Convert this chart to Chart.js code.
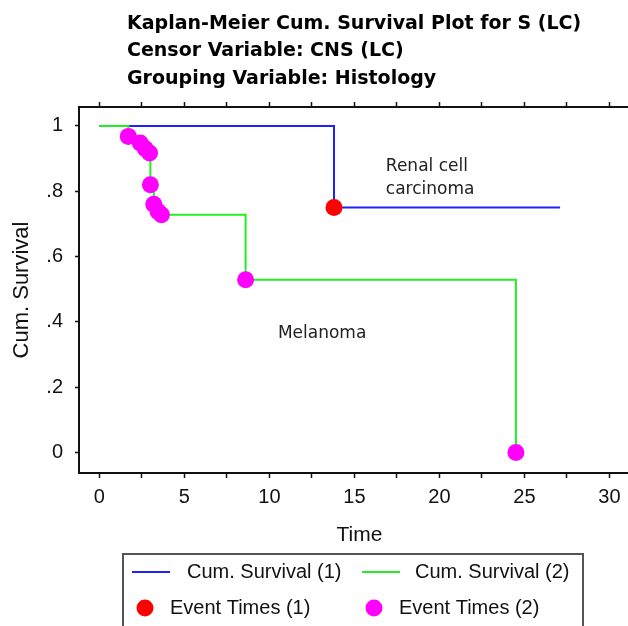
<!DOCTYPE html>
<html>
<head>
<meta charset="utf-8">
<script src="https://cdn.jsdelivr.net/npm/chart.js@4.4.1/dist/chart.umd.min.js"></script>
<style>
    html, body { margin: 0; padding: 0; background: #fff; }
    /* the plot frame is open on the right, so the canvas runs a bit past the window */
    #wrap { width: 628px; height: 626px; overflow: hidden; }
</style>
</head>
<body>
<div id="wrap"><canvas id="km" width="640" height="626"></canvas></div>
<script>
// Chart data
const titleLines = [
    'Kaplan-Meier Cum. Survival Plot for S (LC)',
    'Censor Variable: CNS (LC)',
    'Grouping Variable: Histology'
];

// Group 1: renal cell carcinoma
const renalTimes = [0, 13.8, 27.1];
const renalSurvival = [1, 0.75, 0.75];
const renalEventTimes = [13.8];
const renalEventSurvival = [0.75];

// Group 2: melanoma
const melanomaTimes = [0, 1.7, 2.4, 2.7, 2.95, 3.0, 3.2, 3.45, 3.65, 8.6, 24.5];
const melanomaSurvival = [1, 0.968, 0.948, 0.93, 0.917, 0.82, 0.76, 0.738, 0.728, 0.529, 0];
const melanomaEventTimes = [1.7, 2.4, 2.7, 2.95, 3.0, 3.2, 3.45, 3.65, 8.6, 24.5];
const melanomaEventSurvival = [0.968, 0.948, 0.93, 0.917, 0.82, 0.76, 0.738, 0.728, 0.529, 0];

// Axis ticks
const xTickValues = [0, 2.5, 5, 7.5, 10, 12.5, 15, 17.5, 20, 22.5, 25, 27.5, 30];
const xTickLabels = ['0', '', '5', '', '10', '', '15', '', '20', '', '25', '', '30'];
const yTickValues = [0, 0.2, 0.4, 0.6, 0.8, 1];
const yTickLabels = ['0', '.2', '.4', '.6', '.8', '1'];

const seriesLabels = ['Cum. Survival (1)', 'Cum. Survival (2)', 'Event Times (1)', 'Event Times (2)'];
const groupNotes = [['Renal cell', 'carcinoma'], ['Melanoma']];

const toPoints = (xs, ys) => xs.map((x, i) => ({ x: x, y: ys[i] }));

const INK = '#111';
const FONT = 'Liberation Sans, Arial, sans-serif';

// Titles, group names and the boxed legend are drawn on the canvas
const decorPlugin = {
    id: 'decor',
    afterDraw(chart) {
        const ctx = chart.ctx;
        const xs = chart.scales.x;
        const ys = chart.scales.y;
        ctx.save();

        // title block
        ctx.fillStyle = '#000';
        ctx.font = 'bold 19px "DejaVu Sans"';
        ctx.textAlign = 'left';
        ctx.textBaseline = 'middle';
        titleLines.forEach((line, i) => ctx.fillText(line, 127, 24 + i * 27.5));

        // group names inside the plot
        ctx.font = '17px "DejaVu Sans"';
        ctx.fillStyle = '#222';
        groupNotes[0].forEach((line, i) =>
            ctx.fillText(line, xs.getPixelForValue(16.85), ys.getPixelForValue(0.874) + i * 23));
        ctx.fillText(groupNotes[1][0], xs.getPixelForValue(10.5), ys.getPixelForValue(0.365));

        // legend box
        const left = 123, top = 554;
        ctx.strokeStyle = '#555';
        ctx.lineWidth = 2;
        ctx.strokeRect(left, top, 460, 100);

        const ds = chart.data.datasets;
        ctx.font = '20px ' + FONT;
        ctx.fillStyle = INK;
        const rowY = [top + 18, top + 54];
        // line samples
        [[9, 64], [239, 292]].forEach((pos, i) => {
            ctx.strokeStyle = ds[i].borderColor;
            ctx.lineWidth = 2;
            ctx.beginPath();
            ctx.moveTo(left + pos[0], rowY[0]);
            ctx.lineTo(left + pos[0] + 38, rowY[0]);
            ctx.stroke();
            ctx.fillText(ds[i].label, left + pos[1], rowY[0]);
        });
        // marker samples
        [[22, 47], [251, 276]].forEach((pos, i) => {
            const d = ds[i + 2];
            ctx.fillStyle = d.pointBackgroundColor;
            ctx.beginPath();
            ctx.arc(left + pos[0], rowY[1], 8.5, 0, Math.PI * 2);
            ctx.fill();
            ctx.fillStyle = INK;
            ctx.fillText(d.label, left + pos[1], rowY[1]);
        });
        ctx.restore();
    }
};

const sharedGrid = {
    drawOnChartArea: false,
    tickLength: 5,
    tickColor: INK,
    tickWidth: 1.5
};
const sharedBorder = { color: INK, width: 2 };

// fixed size for a horizontal axis, without extra room for edge labels
const fixHeight = h => s => {
    s.height = h;
    s.paddingLeft = 0;
    s.paddingRight = 0;
};

new Chart(document.getElementById('km'), {
    type: 'line',
    data: {
        datasets: [
            {
                label: seriesLabels[0],
                data: toPoints(renalTimes, renalSurvival),
                borderColor: '#2020ff',
                borderWidth: 2,
                stepped: 'before',
                pointRadius: 0,
                order: 4
            },
            {
                label: seriesLabels[1],
                data: toPoints(melanomaTimes, melanomaSurvival),
                borderColor: '#22ee22',
                borderWidth: 2,
                stepped: 'before',
                pointRadius: 0,
                order: 3
            },
            {
                label: seriesLabels[2],
                data: toPoints(renalEventTimes, renalEventSurvival),
                showLine: false,
                pointRadius: 8.5,
                pointBackgroundColor: '#ff0000',
                pointBorderWidth: 0,
                order: 1
            },
            {
                label: seriesLabels[3],
                data: toPoints(melanomaEventTimes, melanomaEventSurvival),
                showLine: false,
                pointRadius: 8.5,
                pointBackgroundColor: '#ff00ff',
                pointBorderWidth: 0,
                order: 2
            }
        ]
    },
    options: {
        responsive: false,
        animation: false,
        layout: {
            autoPadding: false,
            padding: { top: 101, bottom: 73, left: 0, right: 0 }
        },
        plugins: {
            legend: { display: false },
            tooltip: { enabled: false }
        },
        scales: {
            x: {
                type: 'linear',
                position: 'bottom',
                min: -1.2,
                max: 31.8,
                afterBuildTicks: s => { s.ticks = xTickValues.map(v => ({ value: v })); },
                afterFit: fixHeight(80),
                ticks: {
                    callback: v => xTickLabels[xTickValues.indexOf(v)],
                    autoSkip: false,
                    maxRotation: 0,
                    padding: 7,
                    color: INK,
                    font: { family: FONT, size: 20 }
                },
                grid: sharedGrid,
                border: sharedBorder,
                title: {
                    display: true,
                    text: 'Time',
                    color: INK,
                    font: { family: FONT, size: 21 },
                    padding: { top: 4, bottom: 5 }
                }
            },
            xTop: {
                type: 'linear',
                position: 'top',
                min: -1.2,
                max: 31.8,
                afterBuildTicks: s => { s.ticks = xTickValues.map(v => ({ value: v })); },
                afterFit: fixHeight(6),
                ticks: { display: false },
                grid: sharedGrid,
                border: sharedBorder
            },
            y: {
                position: 'left',
                min: -0.063,
                max: 1.058,
                afterBuildTicks: s => { s.ticks = yTickValues.map(v => ({ value: v })); },
                afterFit: s => { s.width = 79; },
                ticks: {
                    callback: v => yTickLabels[yTickValues.indexOf(v)],
                    padding: 12,
                    color: INK,
                    font: { family: FONT, size: 20 }
                },
                grid: Object.assign({}, sharedGrid, { tickLength: 4 }),
                border: sharedBorder,
                title: {
                    display: true,
                    text: 'Cum. Survival',
                    color: INK,
                    font: { family: FONT, size: 22 },
                    padding: { top: 9, bottom: 0 }
                }
            }
        }
    },
    plugins: [decorPlugin]
});
</script>
</body>
</html>
